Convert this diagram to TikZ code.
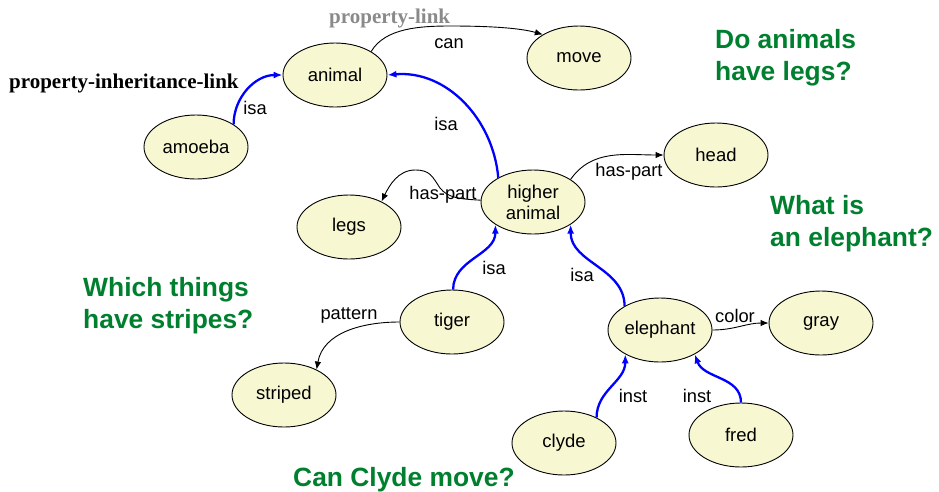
\documentclass[tikz,border=0pt]{standalone}
\usepackage{fontspec}
\setmainfont{Liberation Sans}
\newfontfamily\serifbold{Liberation Serif}
\usetikzlibrary{shapes.geometric,arrows.meta}
\definecolor{nodefill}{HTML}{F7F7D2}
\definecolor{qgreen}{HTML}{00802F}
\definecolor{linkgray}{HTML}{8A8A8A}
\definecolor{isablue}{HTML}{0000FF}
\begin{document}
\begin{tikzpicture}[x=1pt,y=-1pt,
  concept/.style={ellipse,draw=black,line width=0.9pt,fill=nodefill,
    minimum width=104pt,minimum height=64pt,inner sep=0pt,align=center,
    font=\fontsize{18.5}{21}\selectfont},
  link/.style={draw=black,line width=0.9pt,-{Latex[length=8pt,width=6.5pt]}},
  isalink/.style={draw=isablue,line width=2.3pt,-{Latex[length=9pt,width=7pt]}},
  lbl/.style={inner sep=0pt,font=\fontsize{18.3}{21}\selectfont},
  question/.style={anchor=north west,inner sep=0pt,align=left,text=qgreen,
    font=\fontsize{26.4}{32}\selectfont\bfseries},
  legend/.style={anchor=base west,inner sep=0pt,
    font=\fontsize{21}{24}\selectfont\serifbold\bfseries}]
\useasboundingbox (0,0) rectangle (939,491);

% concepts
\node[concept] (animal)  at (335,75)  {animal};
\node[concept] (move)    at (579,58)  {move};
\node[concept] (amoeba)  at (196,147) {amoeba};
\node[concept] (legs)    at (349,227) {legs};
\node[concept] (ha)      at (533,202) {higher\\animal};
\node[concept] (head)    at (716,155) {head};
\node[concept] (tiger)   at (452,322) {tiger};
\node[concept] (striped) at (284,395) {striped};
\node[concept] (eleph)   at (660,330) {elephant};
\node[concept] (gray)    at (821,323) {gray};
\node[concept] (clyde)   at (564,443) {clyde};
\node[concept] (fred)    at (741,435) {fred};

% inheritance links
\draw[isalink] (amoeba.31) to[out=90,in=180] (animal.west);
\draw[isalink] (ha.145) to[out=95,in=5] (animal.east);
\draw[isalink] (tiger.88) to[out=90,in=270] (ha.211);
\draw[isalink] (eleph.146) to[out=90,in=270] (ha.329);
\draw[isalink] (clyde.38) to[out=90,in=270] (eleph.215);
\draw[isalink] (fred.90) to[out=90,in=290] (eleph.325);

% property links
\draw[link] (animal.33) .. controls (385,28) and (420,26) .. (450,26)
  .. controls (490,26) and (520,28) .. (move.147);
\draw[link] (ha.31) to[out=55,in=180] (head.west);
\draw[link] (ha.178) .. controls (460,199) and (448,198) .. (440,188)
  .. controls (432,176) and (430,170) .. (415,170)
  .. controls (398,170) and (389,186) .. (legs.38);
\draw[link] (tiger.west) to[out=180,in=80] (striped.38);
\draw[link] (eleph.east) to[out=0,in=180] (gray.west);

% link labels
\node[lbl] (l1) at (255,108) {isa};
\node[lbl] (l2) at (446,124) {isa};
\node[lbl] (l3) at (449,44)  {can};
\node[lbl] (l4) at (629,172) {has-part};
\node[lbl] (l5) at (443,195) {has-part};
\node[lbl] (l6) at (494,268) {isa};
\node[lbl] (l7) at (582,275) {isa};
\node[lbl] (l8) at (349,315) {pattern};
\node[lbl] (l9) at (735,316) {color};
\node[lbl] (l10) at (633,396) {inst};
\node[lbl] (l11) at (697,396) {inst};

% legend
\node[legend] (pil) at (9,88) {property-inheritance-link};
\node[legend,text=linkgray] (pl) at (329,23) {property-link};

% questions
\node[question] (q1) at (715,29)  {Do animals\\have legs?};
\node[question] (q2) at (770,195) {What is\\an elephant?};
\node[question] (q3) at (83,277)  {Which things\\have stripes?};
\node[question] (q4) at (293,467) {Can Clyde move?};
\end{tikzpicture}
\end{document}
